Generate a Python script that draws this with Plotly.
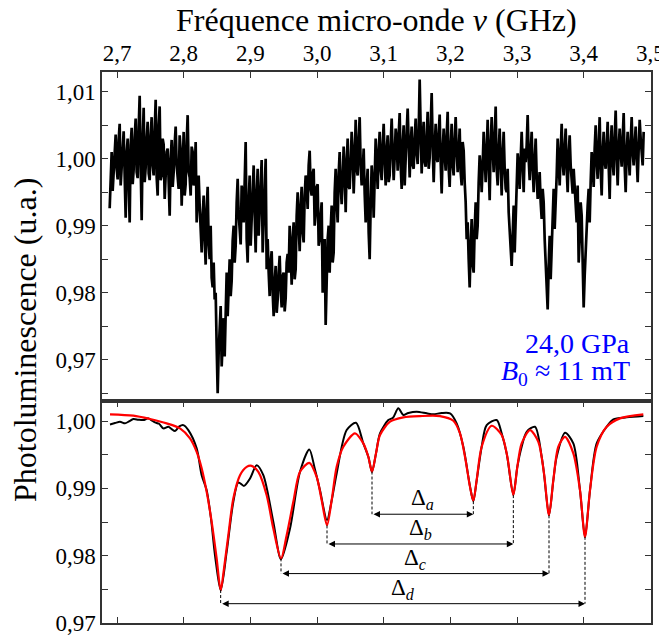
import numpy as np
import plotly.graph_objects as go

# ---------------- data ----------------
# Top panel: raw photoluminescence spectrum, sweep from 2.689 GHz.
# top_pl: samples every 3 MHz; top_pl_mid: samples halfway between them.
top_start_ghz = 2.689
top_step_ghz = 0.003
top_pl = [
    0.9926, 1.0010, 0.9978, 1.0036, 0.9969, 1.0052, 0.9990, 1.0041, 0.9912, 1.0030,
    0.9905, 1.0046, 0.9984, 1.0060, 0.9971, 1.0094, 0.9908, 1.0076, 0.9987, 1.0055,
    0.9968, 1.0062, 0.9975, 1.0088, 0.9945, 1.0078, 0.9975, 1.0021, 0.9968, 1.0015,
    0.9915, 1.0028, 0.9980, 1.0048, 0.9972, 1.0035, 0.9930, 1.0040, 0.9962, 1.0065,
    0.9972, 1.0018, 0.9960, 1.0025, 0.9945, 0.9930, 0.9860, 0.9945, 0.9842, 0.9958,
    0.9850, 0.9822, 0.9845, 0.9800, 0.9650, 0.9745, 0.9690, 0.9762, 0.9800, 0.9765,
    0.9850, 0.9818, 0.9900, 0.9870, 0.9970, 0.9885, 0.9960, 0.9905, 1.0025, 0.9845,
    0.9975, 0.9912, 0.9990, 0.9860, 0.9985, 0.9920, 0.9998, 0.9905, 1.0000, 0.9880,
    0.9795, 0.9862, 0.9765, 0.9840, 0.9790, 0.9855, 0.9778, 0.9830, 0.9792, 0.9858,
    0.9900, 0.9812, 0.9905, 0.9835, 0.9950, 0.9862, 0.9958, 0.9875, 0.9975, 0.9925,
    1.0012, 0.9945, 0.9985, 0.9918, 0.9962, 0.9880, 0.9935, 0.9845, 0.9752, 0.9880,
    0.9830, 0.9930, 0.9860, 0.9985, 0.9905, 1.0010, 0.9932, 1.0018, 0.9920, 1.0030,
    0.9955, 1.0040, 0.9948, 1.0058, 0.9975, 1.0062, 0.9960, 1.0015, 0.9905, 0.9985,
    0.9850, 0.9990, 0.9912, 1.0030, 0.9955, 1.0040, 0.9968, 1.0052, 0.9960, 1.0035,
    0.9975, 1.0060, 0.9968, 1.0045, 0.9982, 1.0068, 0.9955, 1.0050, 0.9990, 1.0075,
    0.9972, 1.0048, 0.9985, 1.0060, 0.9992, 1.0118, 0.9978, 1.0055, 0.9988, 1.0070,
    1.0001, 1.0098, 0.9965, 1.0052, 0.9995, 1.0066, 0.9948, 1.0045, 0.9982, 1.0070,
    0.9958, 1.0052, 0.9975, 1.0062, 0.9980, 1.0045, 0.9960, 1.0012, 0.9935, 0.9905,
    0.9808, 0.9910, 0.9830, 0.9935, 0.9900, 1.0005, 0.9950, 1.0040, 0.9965, 1.0058,
    0.9938, 1.0062, 0.9980, 1.0078, 0.9960, 1.0045, 0.9945, 1.0040, 0.9955, 0.9985,
    0.9895, 0.9840, 0.9930, 0.9900, 1.0008, 0.9955, 1.0040, 0.9950, 0.9995, 1.0065,
    0.9968, 1.0040, 0.9950, 1.0030, 0.9940, 0.9980, 0.9910, 0.9935, 0.9840, 0.9775,
    0.9885, 0.9860, 0.9955, 0.9930, 1.0030, 0.9960, 1.0052, 0.9975, 1.0045, 0.9950,
    1.0035, 0.9962, 0.9985, 0.9930, 0.9960, 0.9880, 0.9915, 0.9778, 0.9870, 0.9930,
    0.9905, 1.0010, 0.9958, 1.0050, 0.9970, 1.0062, 0.9945, 1.0040, 0.9985, 1.0055,
    0.9940, 1.0050, 0.9975, 1.0072, 0.9960, 1.0045, 0.9988, 1.0068, 0.9950, 1.0040,
    0.9975, 1.0062, 0.9990, 1.0048, 0.9965, 1.0058, 1.0002, 1.0040,
]
top_pl_mid = [
    0.9975, 0.9952, 1.0018, 0.9985, 1.0028, 0.9960, 1.0022, 0.9975, 1.0008, 0.9962,
    1.0020, 0.9962, 1.0032, 0.9980, 1.0045, 0.9990, 1.0025, 0.9965, 1.0030, 0.9978,
    1.0035, 0.9990, 1.0040, 0.9972, 1.0050, 0.9968, 1.0030, 0.9940, 1.0010, 0.9955,
    1.0000, 0.9958, 1.0022, 0.9990, 0.9955, 1.0012, 0.9985, 0.9945, 1.0025, 0.9980,
    0.9945, 1.0010, 0.9975, 0.9905, 0.9975, 0.9895, 0.9915, 0.9880, 0.9925, 0.9872,
    0.9900, 0.9808, 0.9790, 0.9720, 0.9712, 0.9780, 0.9740, 0.9705, 0.9830, 0.9812,
    0.9795, 0.9878, 0.9845, 0.9935, 0.9918, 0.9872, 0.9942, 0.9985, 0.9880, 0.9935,
    0.9870, 0.9955, 0.9918, 0.9945, 0.9885, 0.9968, 0.9860, 0.9950, 0.9835, 0.9830,
    0.9845, 0.9800, 0.9815, 0.9770, 0.9830, 0.9805, 0.9825, 0.9772, 0.9845, 0.9830,
    0.9860, 0.9880, 0.9820, 0.9915, 0.9900, 0.9930, 0.9890, 0.9945, 0.9955, 0.9990,
    0.9955, 0.9978, 0.9900, 0.9958, 0.9870, 0.9915, 0.9800, 0.9880, 0.9820, 0.9900,
    0.9895, 0.9845, 0.9950, 0.9935, 0.9978, 0.9960, 0.9968, 0.9985, 0.9990, 0.9958,
    0.9995, 1.0012, 0.9992, 0.9985, 1.0030, 0.9990, 0.9980, 0.9948, 0.9960, 0.9890,
    0.9930, 0.9965, 0.9970, 0.9992, 1.0010, 0.9985, 1.0020, 0.9998, 1.0012, 0.9965,
    1.0022, 1.0010, 1.0002, 1.0028, 1.0035, 0.9990, 1.0022, 0.9960, 1.0040, 1.0005,
    1.0020, 0.9990, 1.0030, 1.0008, 1.0040, 1.0045, 1.0030, 0.9995, 1.0032, 0.9985,
    1.0050, 1.0020, 1.0015, 1.0000, 1.0038, 0.9995, 1.0012, 1.0005, 1.0035, 0.9985,
    1.0018, 0.9990, 1.0028, 1.0012, 1.0010, 0.9980, 1.0025, 0.9965, 0.9880, 0.9850,
    0.9870, 0.9842, 0.9895, 0.9880, 0.9965, 0.9985, 0.9990, 1.0005, 1.0010, 0.9990,
    1.0020, 1.0015, 1.0030, 0.9985, 1.0010, 0.9995, 1.0005, 0.9985, 0.9950, 0.9920,
    0.9875, 0.9885, 0.9860, 0.9965, 0.9988, 1.0000, 0.9995, 1.0015, 1.0020, 1.0000,
    1.0010, 0.9985, 0.9995, 0.9975, 0.9960, 0.9935, 0.9955, 0.9880, 0.9815, 0.9840,
    0.9820, 0.9915, 0.9895, 0.9975, 1.0002, 1.0010, 0.9995, 1.0015, 0.9985, 1.0005,
    0.9990, 0.9948, 0.9955, 0.9905, 0.9845, 0.9935, 0.9822, 0.9825, 0.9890, 0.9955,
    0.9965, 0.9990, 1.0015, 0.9995, 1.0020, 0.9985, 1.0010, 0.9995, 1.0020, 0.9990,
    1.0018, 0.9995, 1.0030, 1.0005, 1.0015, 1.0010, 1.0030, 0.9990, 1.0010, 1.0002,
    1.0025, 1.0010, 1.0020, 1.0002, 1.0015, 1.0030, 0.9990,
]

# Bottom panel: smoothed spectrum (black)
smooth_freq = [
    2.6895, 2.697, 2.7045, 2.712, 2.718, 2.7245, 2.732, 2.7395, 2.747, 2.752,
    2.757, 2.763, 2.7695, 2.777, 2.782, 2.787, 2.7935, 2.7995, 2.807, 2.8195,
    2.827, 2.8345, 2.841, 2.847, 2.8555, 2.8645, 2.8745, 2.882, 2.8905, 2.8995,
    2.9095, 2.9195, 2.9345, 2.946, 2.9595, 2.9745, 2.9885, 2.9965, 3.0045, 3.015,
    3.022, 3.0295, 3.0445, 3.0585, 3.0695, 3.077, 3.0825, 3.0885, 3.0945, 3.107,
    3.114, 3.122, 3.1295, 3.137, 3.1495, 3.1645, 3.1745, 3.187, 3.1995, 3.2095,
    3.2195, 3.2295, 3.2345, 3.2395, 3.247, 3.2545, 3.2695, 3.277, 3.2845, 3.2945,
    3.3005, 3.307, 3.3145, 3.327, 3.337, 3.3405, 3.348, 3.3545, 3.3595, 3.372,
    3.3845, 3.3945, 3.402, 3.4095, 3.4195, 3.4345, 3.4445, 3.4645, 3.4895,
]
smooth_pl = [
    0.9995, 0.9997, 0.9999, 0.99966, 0.99995, 1.0003, 1.0002, 1.00015, 1.0004, 1.0001,
    0.9998, 0.9996, 0.99891, 0.99915, 0.9988, 0.99851, 0.9992, 0.9994, 0.99866, 0.99594,
    0.99196, 0.98973, 0.98550, 0.98006, 0.97485, 0.98055, 0.98800, 0.99088, 0.99037, 0.99147,
    0.99345, 0.99196, 0.98502, 0.97946, 0.98403, 0.99246, 0.99579, 0.99300, 0.98973, 0.98527,
    0.98820, 0.99222, 0.99866, 0.99975, 0.99668, 0.99470, 0.99246, 0.99520, 0.99817, 1.00015,
    1.0005, 1.0019, 1.0009, 1.0012, 1.0014, 1.00115, 1.0010, 1.0012, 1.00115, 0.99966,
    0.99618, 0.99030, 0.98810, 0.99120, 0.99618, 0.99940, 1.00015, 0.99817, 0.99520, 0.98909,
    0.99320, 0.99618, 0.99841, 0.99915, 0.99469, 0.99220, 0.98600, 0.99120, 0.99469, 0.99826,
    0.99668, 0.98970, 0.98278, 0.98970, 0.99668, 0.99915, 1.00025, 1.00055, 1.00074,
]

# Bottom panel: fit (red)
fit_freq = [
    2.6895, 2.7245, 2.7495, 2.7745, 2.7945, 2.8095, 2.8195, 2.827, 2.8345, 2.842,
    2.8495, 2.8555, 2.8605, 2.867, 2.8745, 2.8845, 2.8945, 2.902, 2.912, 2.9245,
    2.9345, 2.946, 2.9545, 2.9645, 2.9745, 2.9885, 2.9995, 3.007, 3.015, 3.022,
    3.0295, 3.0395, 3.057, 3.0695, 3.077, 3.0825, 3.0885, 3.0945, 3.1095, 3.1295,
    3.1545, 3.1845, 3.2045, 3.2145, 3.222, 3.2295, 3.2345, 3.2395, 3.247, 3.262,
    3.277, 3.2855, 3.2945, 3.3005, 3.307, 3.3195, 3.332, 3.3405, 3.348, 3.3545,
    3.362, 3.372, 3.3845, 3.3945, 3.402, 3.4095, 3.4195, 3.4345, 3.4545, 3.4895,
]
fit_pl = [
    1.0010, 1.0008, 1.0003, 0.99966, 0.99891, 0.99743, 0.99543, 0.99300, 0.98948, 0.98502,
    0.97957, 0.97485, 0.97808, 0.98304, 0.98850, 0.99196, 0.99320, 0.99335, 0.99246, 0.98899,
    0.98403, 0.97957, 0.98304, 0.98800, 0.99246, 0.99379, 0.99171, 0.98824, 0.98452, 0.98824,
    0.99320, 0.99618, 0.99817, 0.99668, 0.99469, 0.99246, 0.99520, 0.99792, 0.99990, 1.00055,
    1.00074, 1.00074, 1.00004, 0.99817, 0.99469, 0.99022, 0.98814, 0.99122, 0.99618, 0.99930,
    0.99792, 0.99469, 0.98899, 0.99320, 0.99668, 0.99866, 0.99692, 0.99222, 0.98601, 0.99122,
    0.99618, 0.99766, 0.99520, 0.98973, 0.98278, 0.98973, 0.99618, 0.99915, 1.00040, 1.00100,
]

# Resonance dips (fit minima) and the splittings Delta_a..d between paired dips
dip_freq = [2.8555, 2.946, 3.015, 3.0825, 3.2345, 3.2945, 3.348, 3.402]
dip_pl = [0.9749, 0.9796, 0.9845, 0.9925, 0.9881, 0.9890, 0.9860, 0.9828]
delta_names = ["a", "b", "c", "d"]
delta_pairs = [(3, 4), (2, 5), (1, 6), (0, 7)]

freq_ticks = [2.7, 2.8, 2.9, 3.0, 3.1, 3.2, 3.3, 3.4, 3.5]

# ---------------- layout constants ----------------
arrow_levels = [0.98616, 0.98174, 0.97734, 0.97287]
FONT = "Liberation Serif, Times New Roman, serif"
AXC = "#333333"

# merge the two interleaved sample sets of the raw spectrum
top_freq, top_vals = [], []
for i, v in enumerate(top_pl):
    top_freq.append(round(top_start_ghz + i * top_step_ghz, 5))
    top_vals.append(v)
    if i < len(top_pl_mid):
        top_freq.append(round(top_start_ghz + (i + 0.5) * top_step_ghz, 5))
        top_vals.append(top_pl_mid[i])

fig = go.Figure()
fig.add_trace(go.Scatter(x=top_freq, y=top_vals, mode="lines", xaxis="x2", yaxis="y2",
                         line=dict(color="black", width=2.7), showlegend=False))
fig.add_trace(go.Scatter(x=smooth_freq, y=smooth_pl, mode="lines", xaxis="x", yaxis="y",
                         line=dict(color="black", width=2, shape="spline", smoothing=0.8),
                         showlegend=False))
fig.add_trace(go.Scatter(x=fit_freq, y=fit_pl, mode="lines", xaxis="x", yaxis="y",
                         line=dict(color="#ff0000", width=2.2, shape="spline", smoothing=0.8),
                         showlegend=False))

shapes = []
annotations = []
for k, (i, j) in enumerate(delta_pairs):
    lvl = arrow_levels[k]
    for d in (i, j):
        shapes.append(dict(type="line", xref="x", yref="y", x0=dip_freq[d], x1=dip_freq[d],
                           y0=dip_pl[d], y1=lvl, line=dict(color="black", width=1, dash="3px,2px")))
    annotations.append(dict(x=dip_freq[j], y=lvl, ax=dip_freq[i], ay=lvl, xref="x", yref="y",
                            axref="x", ayref="y", text="", showarrow=True, arrowside="end+start",
                            arrowhead=2, arrowsize=1.3, arrowwidth=1, arrowcolor="black"))
    annotations.append(dict(x=(dip_freq[i] + dip_freq[j]) / 2, y=lvl + 0.0022, xref="x", yref="y",
                            text="Δ<sub><i>%s</i></sub>" % delta_names[k], showarrow=False,
                            font=dict(family=FONT, size=23, color="black"),
                            xanchor="center", yanchor="middle"))

annotations += [
    dict(x=3.4725, y=0.97249, xref="x2", yref="y2", text="24,0 GPa", showarrow=False,
         xanchor="right", yanchor="middle", font=dict(family=FONT, size=28, color="#0000ff")),
    dict(x=3.4725, y=0.96816, xref="x2", yref="y2", text="<i>B</i><sub>0</sub> ≈ 11 mT",
         showarrow=False, xanchor="right", yanchor="middle",
         font=dict(family=FONT, size=28, color="#0000ff")),
    dict(x=0.5, y=1 + 52 / 551, xref="paper", yref="paper", text="Fréquence micro-onde <i>ν</i> (GHz)",
         showarrow=False, xanchor="center", yanchor="middle",
         font=dict(family=FONT, size=32, color="black")),
    dict(x=-77 / 549, y=(623 - 340) / 551, xref="paper", yref="paper", text="Photoluminescence (u.a.)",
         showarrow=False, textangle=-90, xanchor="center", yanchor="middle",
         font=dict(family=FONT, size=32, color="black")),
]

split = 222 / 551
common_x = dict(range=[2.6775, 3.501], tickvals=freq_ticks, tickformat=".1f", ticks="inside",
                ticklen=6, tickcolor=AXC, showline=True, linecolor=AXC, linewidth=1.5,
                showgrid=False, zeroline=False, automargin=False)
common_y = dict(dtick=0.01, tick0=0.97, tickformat=".2f", ticks="inside", ticklen=6,
                tickcolor=AXC, showline=True, linecolor=AXC, linewidth=1.5, mirror="ticks",
                showgrid=False, zeroline=False, automargin=False,
                minor=dict(dtick=0.005, tick0=0.965, ticks="inside", ticklen=6, tickcolor=AXC),
                tickfont=dict(family=FONT, size=23, color="black"))

# The page body adds an 8 px offset, so the margins are shifted to compensate.
fig.update_layout(
    template="none",
    width=667, height=639,
    margin=dict(l=94, r=24, t=64, b=24, autoexpand=False),
    paper_bgcolor="white", plot_bgcolor="white",
    separators=", ",
    showlegend=False,
    xaxis=dict(common_x, domain=[0, 1], anchor="y", showticklabels=False, mirror="ticks"),
    yaxis=dict(common_y, domain=[0, split], range=[0.97, 1.00298]),
    xaxis2=dict(common_x, domain=[0, 1], anchor="y2", side="top", matches="x", mirror=True,
                tickfont=dict(family=FONT, size=23, color="black")),
    yaxis2=dict(common_y, domain=[split, 1], range=[0.96384, 1.01294]),
    shapes=shapes,
    annotations=annotations,
)

fig.write_html("out.html")
